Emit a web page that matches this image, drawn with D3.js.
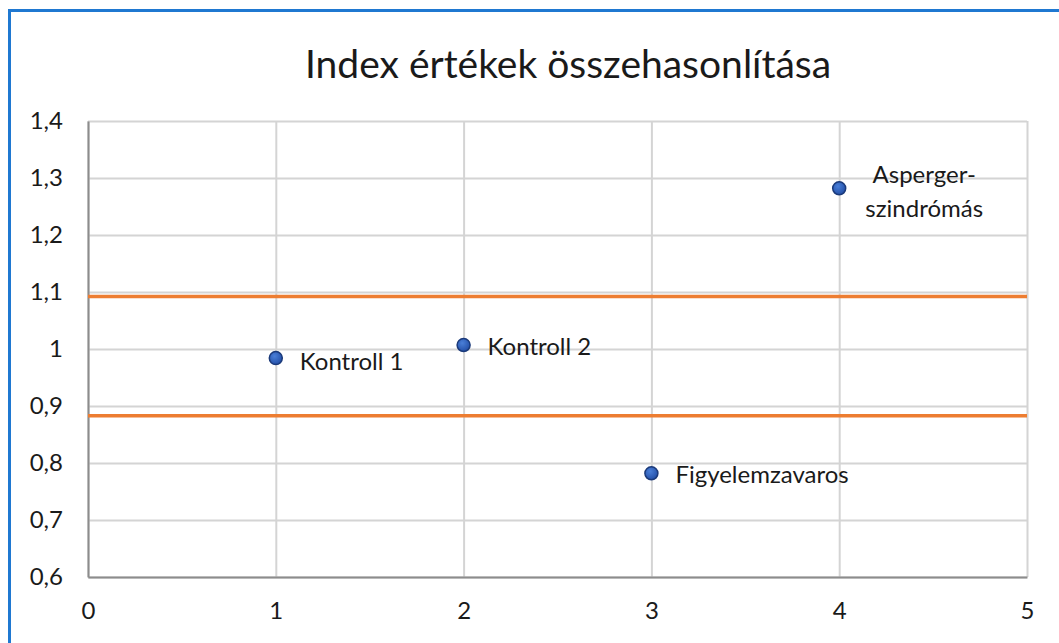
<!DOCTYPE html>
<html>
<head>
<meta charset="utf-8">
<script src="https://cdn.jsdelivr.net/npm/d3@7"></script>
<style>
  html, body { margin: 0; padding: 0; background: #ffffff; }
  svg { display: block; font-family: Lato, "Open Sans", sans-serif; }
</style>
</head>
<body>
<svg id="chart" width="1059" height="643"></svg>
<script>
const title = "Index értékek összehasonlítása";
const groupNames = ["Kontroll 1", "Kontroll 2", "Figyelemzavaros", "Asperger-szindrómás"];
const xValues = [1, 2, 3, 4];
const indexValues = [0.984, 1.007, 0.782, 1.282];
const refLines = [1.092, 0.883];
const xTicks = [0, 1, 2, 3, 4, 5];
const yTicks = [0.6, 0.7, 0.8, 0.9, 1.0, 1.1, 1.2, 1.3, 1.4];
const labelLines = [["Kontroll 1"], ["Kontroll 2"], ["Figyelemzavaros"], ["Asperger-", "szindrómás"]];

const svg = d3.select("#chart");
const W = 1059, H = 643;
const plot = { left: 88, right: 1027, top: 121, bottom: 577 };

const x = d3.scaleLinear().domain([0, 5]).range([plot.left, plot.right]);
const y = d3.scaleLinear().domain([0.6, 1.4]).range([plot.bottom, plot.top]);
const fmt = v => d3.format("")(+v.toFixed(1)).replace(".", ",");

// outer frame
svg.append("rect").attr("width", W).attr("height", H).attr("fill", "#fff");
svg.append("line").attr("x1", 9).attr("x2", W).attr("y1", 10.5).attr("y2", 10.5)
  .attr("stroke", "#1f78d1").attr("stroke-width", 3);
svg.append("line").attr("x1", 9.5).attr("x2", 9.5).attr("y1", 9).attr("y2", H)
  .attr("stroke", "#1f78d1").attr("stroke-width", 3);

// title
svg.append("text").attr("x", 568).attr("y", 78).attr("text-anchor", "middle")
  .attr("font-size", 39).attr("fill", "#1a1a1a").text(title);

// gridlines
const gx = svg.append("g").attr("transform", `translate(0,${plot.bottom})`)
  .call(d3.axisBottom(x).tickValues(xTicks).tickSize(-(plot.bottom - plot.top)).tickFormat(""));
gx.select(".domain").remove();
gx.selectAll("line").attr("stroke", "#d4d4d4").attr("stroke-width", 2);

const gy = svg.append("g").attr("transform", `translate(${plot.left},0)`)
  .call(d3.axisLeft(y).tickValues(yTicks).tickSize(-(plot.right - plot.left)).tickFormat(""));
gy.select(".domain").remove();
gy.selectAll("line").attr("stroke", "#d4d4d4").attr("stroke-width", 2);

// axes
const ax = svg.append("g").attr("transform", `translate(0,${plot.bottom})`)
  .call(d3.axisBottom(x).tickValues(xTicks).tickSize(0).tickPadding(25).tickFormat(d => fmt(d)));
ax.select(".domain").attr("stroke", "#8c8c8c").attr("stroke-width", 2);
ax.selectAll("text").attr("font-size", 24).attr("fill", "#1a1a1a").attr("font-family", "Lato, sans-serif");

const ay = svg.append("g").attr("transform", `translate(${plot.left},0)`)
  .call(d3.axisLeft(y).tickValues(yTicks).tickSize(0).tickPadding(25).tickFormat(d => fmt(d)));
ay.select(".domain").attr("stroke", "#8c8c8c").attr("stroke-width", 2);
ay.selectAll("text").attr("font-size", 24).attr("fill", "#1a1a1a").attr("font-family", "Lato, sans-serif");

// reference lines
svg.selectAll(".ref").data(refLines).enter().append("line")
  .attr("x1", plot.left).attr("x2", plot.right)
  .attr("y1", d => y(d)).attr("y2", d => y(d))
  .attr("stroke", "#ed7d31").attr("stroke-width", 3.5);

// points
const defs = svg.append("defs");
const grad = defs.append("radialGradient").attr("id", "pt").attr("cx", "40%").attr("cy", "35%").attr("r", "65%");
grad.append("stop").attr("offset", "0%").attr("stop-color", "#4a7fd8");
grad.append("stop").attr("offset", "100%").attr("stop-color", "#2450a8");

const data = xValues.map((v, i) => ({ x: v, y: indexValues[i], name: groupNames[i], lines: labelLines[i] }));

svg.selectAll(".pt").data(data).enter().append("circle")
  .attr("cx", d => x(d.x)).attr("cy", d => y(d.y)).attr("r", 6.5)
  .attr("fill", "url(#pt)").attr("stroke", "#1b3a7a").attr("stroke-width", 1.5);

// labels
const multi = d => d.lines.length > 1;
const lx = d => multi(d) ? x(d.x) + 85 : x(d.x) + 24;
const ly = d => multi(d) ? y(d.y) - 15 : y(d.y) + (d.x === 1 ? 2 : 0);
const lbl = svg.selectAll(".lbl").data(data).enter().append("text")
  .attr("x", lx).attr("y", ly)
  .attr("text-anchor", d => multi(d) ? "middle" : "start")
  .attr("font-size", 24).attr("fill", "#1a1a1a").attr("dominant-baseline", "central");
lbl.each(function(d) {
  const t = d3.select(this);
  d.lines.forEach((ln, i) => {
    t.append("tspan").attr("x", lx(d)).attr("dy", i === 0 ? 0 : 34).text(ln);
  });
});
</script>
</body>
</html>
